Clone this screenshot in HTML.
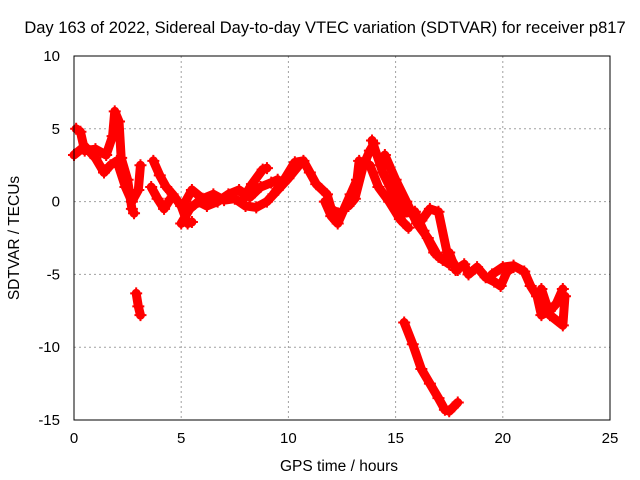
<!DOCTYPE html>
<html><head><meta charset="utf-8"><style>
body{margin:0;background:#fff}
svg{display:block;font-family:"Liberation Sans",sans-serif}
</style></head><body>
<svg id="chart" width="640" height="480">
<text x="325" y="33" text-anchor="middle" font-size="16.5">Day 163 of 2022, Sidereal Day-to-day VTEC variation (SDTVAR) for receiver p817</text>
<text x="339" y="471" text-anchor="middle" font-size="15.5">GPS time / hours</text>
<text transform="translate(19,238) rotate(-90)" text-anchor="middle" font-size="15.5">SDTVAR / TECUs</text>
<g id="grid"></g><g id="ticks"></g><g id="marks"></g>
<rect x="74" y="56" width="536" height="364" fill="none" stroke="#000" stroke-width="1"/>
</svg>
<script>
const xTicks=[0,5,10,15,20,25];
const yTicks=[10,5,0,-5,-10,-15];
const trackA1=[[0.1,5],[0.3,4.8],[0.5,3.5],[1,3.6],[1.5,3.2],[1.8,4.5],[1.9,6.2],[2.1,5.5],[2.2,3],[2.5,1.5],[2.7,-0.5],[2.8,-0.8]];
const trackA2=[[0,3.2],[0.5,3.8],[1,3],[1.4,2],[1.7,2.5],[2,2.8],[2.4,1],[2.7,0],[3.0,0.8],[3.1,2.5]];
const trackB1=[[3.7,2.8],[4,1.8],[4.3,1],[4.6,0.5],[5,-0.3],[5.3,-1.5],[5.5,-1.4]];
const trackB2=[[3.6,1],[3.9,0.2],[4.2,-0.5],[4.5,0.2]];
const trackB3=[[2.9,-6.3],[3.0,-7.2],[3.1,-7.8]];
const trackC1=[[5,-1.5],[5.4,-0.5],[5.8,0],[6.2,-0.3],[6.7,0],[7.2,0.5],[7.7,0.8],[8.2,0.3],[8.7,1],[9.2,1.3],[9.5,1.5]];
const trackC2=[[5.2,0],[5.5,0.8],[6,0.2],[6.5,0.5],[7,0.1],[7.5,0.2],[8,-0.3],[8.5,-0.4],[9,0],[9.5,0.8],[10,1.6],[10.5,2.5]];
const trackC3=[[7.8,0],[8.3,1.2],[8.8,2.2],[9,2.3]];
const trackC4=[[9.3,0.5],[9.8,1.5],[10.3,2.7],[10.7,2.8],[11,2],[11.3,1.2],[11.8,0.5],[12,-0.5],[12.3,-0.8]];
const trackD1=[[11.7,0],[12,-1],[12.3,-1.5],[12.6,-0.5],[12.9,0.5],[13.2,1.5],[13.3,2.8]];
const trackD2=[[12.8,-0.3],[13.1,0.2],[13.5,2.5],[13.8,3.5],[14,4]];
const trackE1=[[13.8,2.5],[14.2,1],[14.7,0],[15.2,-1.2],[15.6,-1.8]];
const trackE2=[[14.5,3.2],[15,1.5],[15.5,0],[16,-1.5],[16.5,-2.5],[17,-3.8],[17.5,-4.3]];
const trackE3=[[13.9,4.2],[14.4,2],[14.9,0.5],[15.4,-0.8],[15.9,-0.7],[16.3,-2],[16.8,-3.5],[17.2,-4.0]];
const trackE4=[[16.2,-1.3],[16.6,-0.5],[17,-0.7],[17.4,-3.5],[17.9,-4.7]];
const trackF=[[17.5,-3.5],[17.8,-4.7],[18.2,-4.3],[18.4,-5],[18.8,-4.5],[19.2,-5.2],[19.6,-5.5],[19.9,-5.8],[20.2,-4.8],[20.5,-4.5]];
const trackG1=[[19.5,-5],[20,-4.5],[20.5,-4.4],[21,-4.8],[21.3,-5.8],[21.6,-6.5],[21.8,-7.8],[22.2,-7.5],[22.5,-7],[22.8,-6]];
const trackG2=[[21.8,-6],[22.2,-7.8],[22.8,-8.5],[22.9,-6.5]];
const trackH=[[15.4,-8.3],[15.8,-9.8],[16.2,-11.5],[16.6,-12.5],[17,-13.5],[17.3,-14.3],[17.5,-14.4],[17.9,-13.8]];
const tracks=[trackA1,trackA2,trackB1,trackB2,trackB3,trackC1,trackC2,trackC3,trackC4,trackD1,trackD2,trackE1,trackE2,trackE3,trackE4,trackF,trackG1,trackG2,trackH];
const NS='http://www.w3.org/2000/svg';
const X0=74,X1=610,Y0=420,Y1=56,xMin=0,xMax=25,yMin=-15,yMax=10;
function sx(v){return X0+(v-xMin)/(xMax-xMin)*(X1-X0);}
function sy(v){return Y0-(v-yMin)/(yMax-yMin)*(Y0-Y1);}
function mk(t,a){const e=document.createElementNS(NS,t);for(const k in a)e.setAttribute(k,a[k]);return e;}
const grid=document.getElementById('grid'),ticks=document.getElementById('ticks'),marks=document.getElementById('marks');
xTicks.forEach(t=>{const x=sx(t);
 if(t>xMin&&t<xMax){const g=mk('line',{x1:x,x2:x,y1:Y1,y2:Y0,stroke:'#a0a0a0','stroke-dasharray':'2,3'});
 
 grid.appendChild(g);}
 const l=mk('text',{x:x,y:443,'text-anchor':'middle','font-size':'15'});l.textContent=t;
 
 ticks.appendChild(l);});
yTicks.forEach(t=>{const y=sy(t);
 if(t>yMin&&t<yMax){const g=mk('line',{x1:X0,x2:X1,y1:y,y2:y,stroke:'#a0a0a0','stroke-dasharray':'2,3'});
 
 grid.appendChild(g);}
 const l=mk('text',{x:60,y:y+5,'text-anchor':'end','font-size':'15'});l.textContent=t;
 
 ticks.appendChild(l);});
tracks.forEach(tr=>{
 const p=mk('polyline',{points:tr.map(d=>sx(d[0])+','+sy(d[1])).join(' '),fill:'none',stroke:'#ff0000','stroke-width':9,'stroke-linejoin':'round','stroke-linecap':'round'});
 
 
 marks.appendChild(p);
 tr.forEach(d=>{const x=sx(d[0]),y=sy(d[1]);
  const c=mk('path',{d:`M${x-6},${y}H${x+6}M${x},${y-6}V${y+6}`,stroke:'#ff0000','stroke-width':2});
  
  
  marks.appendChild(c);});
});
</script>
</body></html>
